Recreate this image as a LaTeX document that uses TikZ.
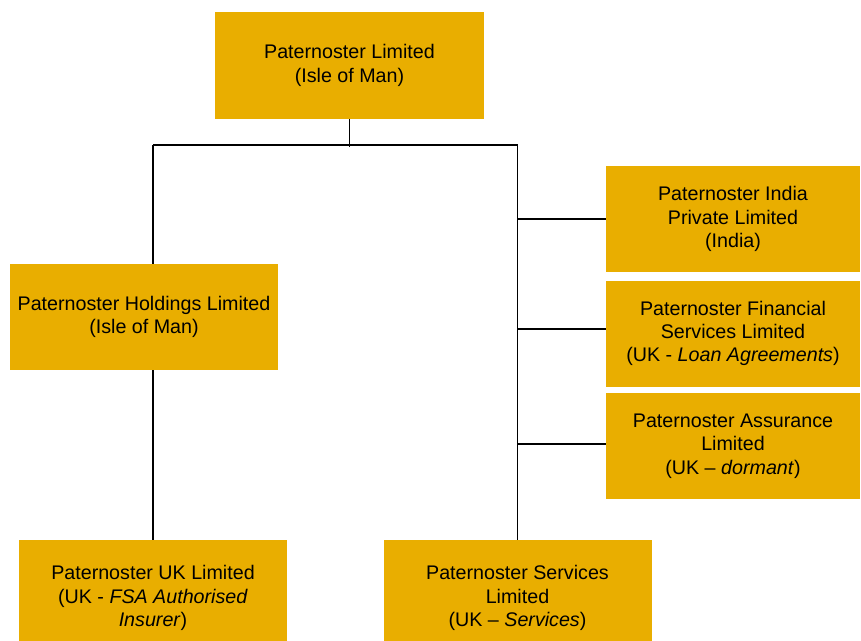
\documentclass[tikz,border=0pt]{standalone}
\usepackage{fontspec}
\setmainfont{Liberation Sans}
\usetikzlibrary{positioning}
\definecolor{gold}{RGB}{233,174,0}

\begin{document}
\begin{tikzpicture}[
        company/.style={rectangle, fill=gold, inner sep=0pt, minimum width=6.7cm, minimum height=2.65cm, align=center, font=\fontsize{14}{16.5}\selectfont},
        side/.style={company, minimum width=6.35cm},
        link/.style={line width=1.4pt, black}
    ]
        \useasboundingbox (0,0) rectangle (21.525,-16.025);

        % Parent
        \node[company, minimum width=6.725cm, minimum height=2.675cm] (top) at (8.7375,-1.6375) {Paternoster Limited\\(Isle of Man)};

        % Left branch
        \node[company] (hold) at (3.6,-7.925) {Paternoster Holdings Limited\\(Isle of Man)};
        \node[company, minimum height=2.9cm] (uk) at (3.825,-14.95) {Paternoster UK Limited\\(UK - \textit{FSA Authorised}\\\textit{Insurer})};

        % Right branch
        \node[company, minimum height=2.9cm] (serv) at (12.9375,-14.95) {Paternoster Services\\Limited\\(UK -- \textit{Services})};
        \node[side] (india) at (18.325,-5.475) {Paternoster India\\Private Limited\\(India)};
        \node[side, below=0.2cm of india] (fin) {Paternoster Financial\\Services Limited\\(UK - \textit{Loan Agreements})};
        \node[side, below=0.15cm of fin] (assur) {Paternoster Assurance\\Limited\\(UK -- \textit{dormant})};

        % Bus
        \coordinate (bus) at (8.75,-3.625);

        % Connections
        \draw[link] (top.south) -- ([yshift=-0.05cm]top.south |- bus);
        \draw[link] (uk.north |- bus) -- (serv.north |- bus);
        \draw[link] (uk.north |- bus) -- (uk.north |- hold.north);
        \draw[link] (uk.north |- hold.south) -- (uk.north);
        \draw[link] (serv.north |- bus) -- (serv.north);
        \draw[link] (serv.north |- india.west) -- (india.west);
        \draw[link] ([yshift=0.12cm]serv.north |- fin.west) -- ([yshift=0.12cm]fin.west);
        \draw[link] ([yshift=0.06cm]serv.north |- assur.west) -- ([yshift=0.06cm]assur.west);
    \end{tikzpicture}
\end{document}
